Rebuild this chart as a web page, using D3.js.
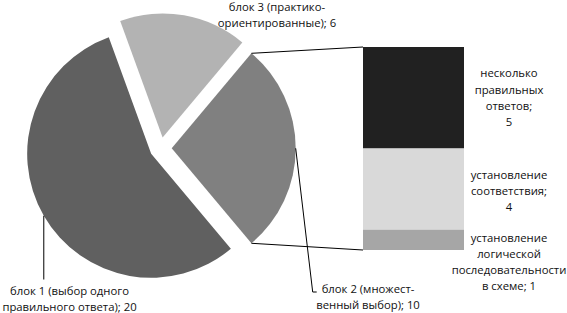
<!DOCTYPE html>
<html>
<head>
<meta charset="utf-8">
<script src="https://cdn.jsdelivr.net/npm/d3@7"></script>
<style>
  body { margin: 0; background: #fff; }
  text { font-family: "Open Sans", sans-serif; font-size: 11.3px; fill: #111; }
</style>
</head>
<body>
<div id="app"></div>
<script>
// pie part: three blocks of the test
const pieNames = ["блок 1", "блок 2", "блок 3"];
const pieValues = [20, 10, 6];
const pieLabelLines = [
  ["блок 1 (выбор одного", "правильного ответа); {v}"],
  ["блок 2 (множест-", "венный выбор); {v}"],
  ["блок 3 (практико-", "ориентированные); {v}"],
];
// bar part: block 2 split by task type
const barNames = [
  "несколько правильных ответов",
  "установление соответствия",
  "установление логической последовательности в схеме",
];
const barValues = [5, 4, 1];
const barLabelLines = [
  ["несколько", "правильных", "ответов;", "{v}"],
  ["установление", "соответствия;", "{v}"],
  ["установление", "логической", "последовательности", "в схеме; {v}"],
];

const pieColors = ["#606060", "#808080", "#b3b3b3"];
const barColors = ["#212121", "#d9d9d9", "#a6a6a6"];

const width = 567, height = 313;
const cx = 160.7, cy = 148.3, radius = 124, explode = 11;
const rad = Math.PI / 180;
const barX = 363, barW = 101, barTop = 47, barBottom = 250;
const lineH = 16.2;

const svg = d3.select("#app").append("svg")
  .attr("width", width).attr("height", height);

// slices go clockwise: block 1, block 3, block 2 (block 2 centred on the right)
const drawOrder = [0, 2, 1];
const pie = d3.pie()
  .value(d => d.value)
  .sort((a, b) => drawOrder.indexOf(a.i) - drawOrder.indexOf(b.i))
  .startAngle(140 * rad)
  .endAngle(500 * rad);
const arcs = pie(pieValues.map((v, i) => ({ i, name: pieNames[i], value: v })));
const arc = d3.arc().innerRadius(0).outerRadius(radius);

const apex = a => {
  const mid = (a.startAngle + a.endAngle) / 2;
  return [cx + Math.sin(mid) * explode, cy - Math.cos(mid) * explode];
};
const onArc = (a, ang) => {
  const [x, y] = apex(a);
  return [x + Math.sin(ang) * radius, y - Math.cos(ang) * radius];
};

svg.append("g").selectAll("path")
  .data(arcs)
  .join("path")
  .attr("d", arc)
  .attr("fill", d => pieColors[d.data.i])
  .attr("transform", d => `translate(${apex(d)})`);

// stacked bar for block 2
const y = d3.scaleLinear().domain([0, d3.sum(barValues)]).range([barBottom, barTop]);
const stack = [];
let acc = 0;
for (let i = barValues.length - 1; i >= 0; i--) {
  stack[i] = { i, y0: acc, y1: acc + barValues[i] };
  acc += barValues[i];
}
svg.append("g").selectAll("rect")
  .data(stack)
  .join("rect")
  .attr("x", barX)
  .attr("width", barW)
  .attr("y", d => y(d.y1))
  .attr("height", d => y(d.y0) - y(d.y1))
  .attr("fill", d => barColors[d.i]);

// connector lines from block 2 to the bar
const b2 = arcs.find(d => d.data.i === 1);
const pTop = onArc(b2, b2.startAngle), pBot = onArc(b2, b2.endAngle);
svg.append("path")
  .attr("d", `M${pTop}L${barX},${y(acc)}M${pBot}L${barX},${y(0)}`)
  .attr("fill", "none").attr("stroke", "#000").attr("stroke-width", 1);

// leader lines
const b1 = arcs.find(d => d.data.i === 0);
const m1 = onArc(b1, (b1.startAngle + b1.endAngle) / 2);
const m2 = onArc(b2, (b2.startAngle + b2.endAngle) / 2);
svg.append("path")
  .attr("d", `M${m1}L${m1[0]},279.5M${m2}L312.7,292L316.7,292`)
  .attr("fill", "none").attr("stroke", "#000").attr("stroke-width", 1);

function multiLine(g, lines, value, x, yFirst) {
  const t = g.append("text").attr("text-anchor", "middle");
  lines.forEach((l, k) => {
    t.append("tspan").attr("x", x).attr("y", yFirst + k * lineH)
      .text(l.replace("{v}", value));
  });
}

const labels = svg.append("g");
const pieLabelPos = [[69.5, 294.5], [368, 293], [277, 10.5]];
pieValues.forEach((v, i) => multiLine(labels, pieLabelLines[i], v, pieLabelPos[i][0], pieLabelPos[i][1]));

const barLabelShift = [0, 2, 22];
stack.forEach(d => {
  const lines = barLabelLines[d.i];
  const mid = (y(d.y0) + y(d.y1)) / 2 + barLabelShift[d.i];
  multiLine(labels, lines, barValues[d.i], 509, mid - (lines.length - 1) * lineH / 2 + 4);
});
</script>
</body>
</html>
